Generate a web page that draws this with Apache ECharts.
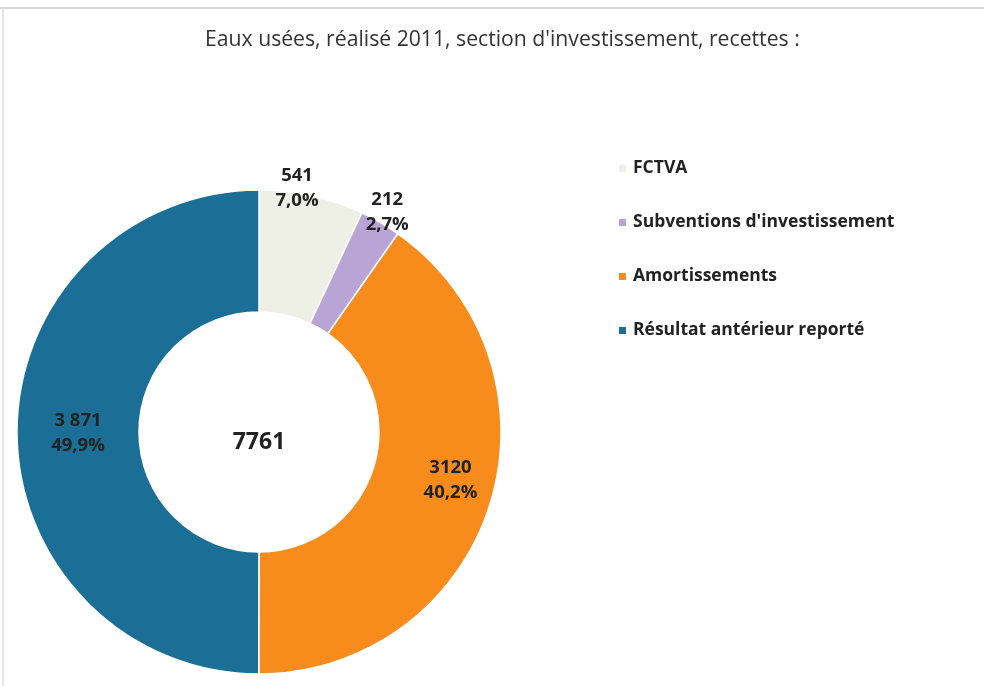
<!DOCTYPE html>
<html>
<head>
<meta charset="utf-8">
<script src="https://cdn.jsdelivr.net/npm/echarts@6/dist/echarts.min.js"></script>
<style>
  html, body { margin: 0; padding: 0; background: #fff; }
  #main { width: 984px; height: 686px; }
</style>
</head>
<body>
<div id="main"></div>
<script>
// données
var categories = ['FCTVA', "Subventions d'investissement", 'Amortissements', 'Résultat antérieur reporté'];
var values = [541, 212, 3120, 3871];
var valueLabels = ['541', '212', '3120', '3 871'];
var percentLabels = ['7,0%', '2,7%', '40,2%', '49,9%'];
var totalLabel = '7761';

var colors = ['#eef0e5', '#b9a4d6', '#f78c1c', '#1b6e95'];
var fontFamily = '"Open Sans", "Noto Sans", sans-serif';

var chart = echarts.init(document.getElementById('main'), null, { renderer: 'canvas' });

// petits décalages des étiquettes (FCTVA et subventions sont posées au bord)
var labelShift = [[-2, -64], [36, -61], [16, -7], [3, 1]];

var option = {
    animation: false,
    color: colors,
    title: {
        text: 'Eaux usées, réalisé 2011, section d\'investissement, recettes :',
        left: 200,
        top: 24,
        textStyle: {
            fontFamily: fontFamily,
            fontWeight: 'normal',
            fontSize: 21.2,
            color: '#333'
        }
    },
    legend: {
        orient: 'vertical',
        left: 612,
        top: 152,
        itemGap: 31,
        itemWidth: 9,
        itemHeight: 9,
        icon: 'rect',
        data: categories,
        textStyle: {
            fontFamily: fontFamily,
            fontWeight: 'bold',
            fontSize: 17.5,
            lineHeight: 23,
            color: '#222',
            padding: [0, 0, 0, 1]
        }
    },
    graphic: [
        { type: 'line', shape: { x1: 0, y1: 8, x2: 984, y2: 8 }, style: { stroke: '#b5b5b5', lineWidth: 1 } },
        { type: 'line', shape: { x1: 3, y1: 8, x2: 3, y2: 686 }, style: { stroke: '#cfcfcf', lineWidth: 1 } },
        {
            type: 'text',
            x: 259,
            y: 442,
            style: {
                text: totalLabel,
                textAlign: 'center',
                textVerticalAlign: 'middle',
                fontFamily: fontFamily,
                fontWeight: 'bold',
                fontSize: 23,
                fill: '#222'
            }
        }
    ],
    series: [{
        type: 'pie',
        center: [259, 432],
        radius: [120, 242],
        startAngle: 90,
        clockwise: true,
        avoidLabelOverlap: false,
        itemStyle: {
            borderColor: '#fff',
            borderWidth: 1.5
        },
        label: {
            show: true,
            position: 'inside',
            fontFamily: fontFamily,
            fontWeight: 'bold',
            fontSize: 18.5,
            lineHeight: 25,
            color: '#222',
            formatter: function (p) {
                return valueLabels[p.dataIndex] + '\n' + percentLabels[p.dataIndex];
            }
        },
        labelLine: { show: false },
        labelLayout: function (p) {
            return { dx: labelShift[p.dataIndex][0], dy: labelShift[p.dataIndex][1] };
        },
        emphasis: { disabled: true },
        data: categories.map(function (name, i) {
            return { name: name, value: values[i] };
        })
    }]
};

chart.setOption(option);
</script>
</body>
</html>
